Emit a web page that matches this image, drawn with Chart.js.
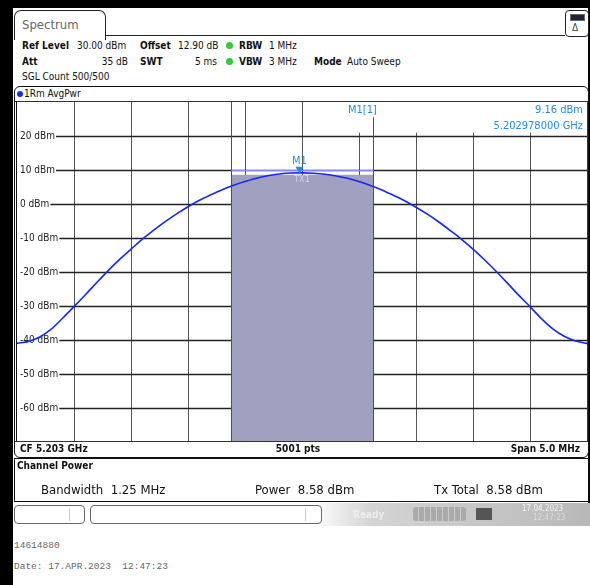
<!DOCTYPE html>
<html>
<head>
<meta charset="utf-8">
<script src="https://cdn.jsdelivr.net/npm/chart.js@4"></script>
<style>
body { margin: 0; background: #fff; }
#page { position: relative; width: 590px; height: 585px; overflow: hidden; background: #fff;
  font-family: "DejaVu Sans Condensed", "Liberation Sans Narrow", "DejaVu Sans", sans-serif; color: #111; }
.t { position: absolute; white-space: nowrap; font-size: 10px; line-height: 12px; }
.b { font-weight: bold; }
.dot { position: absolute; width: 7px; height: 7px; border-radius: 50%; background: #3c3; }
.blk { position: absolute; background: #000; }
.box { position: absolute; border: 1px solid #222; box-sizing: border-box; }
#plot { position: absolute; left: 17px; top: 102px; width: 570px; height: 340px; }
.mk { position: absolute; color: #1e8ce0; font-size: 11px; line-height: 12px; white-space: nowrap; }
.cp { position: absolute; font-size: 13px; line-height: 15px; white-space: nowrap; }
.mono { position: absolute; font-family: "Liberation Mono", "DejaVu Sans Mono", monospace; font-size: 9.5px; color: #666; white-space: nowrap; }
</style>
</head>
<body>
<div id="page">
  <!-- black frame -->
  <div class="blk" style="left:0;top:0;width:590px;height:8px"></div>
  <div class="blk" style="left:0;top:0;width:13px;height:585px"></div>
  <div class="blk" style="left:588px;top:0;width:2px;height:503px"></div>

  <!-- tab -->
  <div class="box" style="left:14px;top:10px;width:92px;height:30px;border-radius:7px 7px 0 0;border-bottom:none;background:#fff"></div>
  <div style="position:absolute;left:105px;top:35px;width:460px;height:1px;background:#222"></div>
  <div class="t" style="left:22px;top:17px;font-size:13px;line-height:16px;color:#666">Spectrum</div>
  <div class="box" style="left:565px;top:10px;width:24px;height:27px;border-radius:4px"></div>
  <div style="position:absolute;left:570px;top:14px;width:13px;height:5px;background:#223;border:1px solid #667"></div>
  <div class="t" style="left:572px;top:22px;font-size:10px;color:#445">&#916;</div>

  <!-- header -->
  <div class="t b" style="left:22px;top:40px">Ref Level</div>
  <div class="t" style="left:77px;top:40px">30.00 dBm</div>
  <div class="t b" style="left:140px;top:40px">Offset</div>
  <div class="t" style="left:178px;top:40px">12.90 dB</div>
  <div class="dot" style="left:226px;top:42px"></div>
  <div class="t b" style="left:239px;top:40px">RBW</div>
  <div class="t" style="left:269px;top:40px">1 MHz</div>

  <div class="t b" style="left:22px;top:56px">Att</div>
  <div class="t" style="left:98px;top:56px;width:30px;text-align:right">35 dB</div>
  <div class="t b" style="left:140px;top:56px">SWT</div>
  <div class="t" style="left:187px;top:56px;width:30px;text-align:right">5 ms</div>
  <div class="dot" style="left:226px;top:58px"></div>
  <div class="t b" style="left:239px;top:56px">VBW</div>
  <div class="t" style="left:269px;top:56px">3 MHz</div>
  <div class="t b" style="left:314px;top:56px">Mode</div>
  <div class="t" style="left:347px;top:56px">Auto Sweep</div>

  <div class="t" style="left:22px;top:71px">SGL Count 500/500</div>

  <!-- diagram frame -->
  <div class="box" style="left:14px;top:86px;width:575px;height:372px;border-radius:6px;border-color:#111"></div>
  <div class="dot" style="left:17px;top:91px;background:#1030e0;width:6px;height:6px"></div>
  <div class="t" style="left:24px;top:88px">1Rm AvgPwr</div>
  <canvas id="plot" width="570" height="340"></canvas>
  <div style="position:absolute;left:15px;top:101px;width:573px;height:1px;background:#333"></div>
  <div style="position:absolute;left:15px;top:441px;width:573px;height:1px;background:#333"></div>
  <div style="position:absolute;left:16px;top:101px;width:1px;height:341px;background:#111"></div>
  <div style="position:absolute;left:587px;top:101px;width:1px;height:341px;background:#333"></div>

  <!-- marker info -->
  <div class="mk" style="left:348px;top:104px">M1[1]</div>
  <div class="mk" style="left:480px;top:104px;width:103px;text-align:right">9.16 dBm</div>
  <div class="mk" style="left:460px;top:120px;width:123px;text-align:right">5.202978000 GHz</div>

  <!-- footer of diagram -->
  <div class="t b" style="left:20px;top:443px">CF 5.203 GHz</div>
  <div class="t b" style="left:248px;top:443px;width:100px;text-align:center">5001 pts</div>
  <div class="t b" style="left:480px;top:443px;width:100px;text-align:right">Span 5.0 MHz</div>

  <!-- channel power table -->
  <div class="box" style="left:14px;top:458px;width:575px;height:44px;border-color:#111"></div>
  <div class="t b" style="left:17px;top:460px">Channel Power</div>
  <div class="cp" style="left:41px;top:482px">Bandwidth&nbsp; 1.25 MHz</div>
  <div class="cp" style="left:255px;top:482px">Power&nbsp; 8.58 dBm</div>
  <div class="cp" style="left:434px;top:482px">Tx Total&nbsp; 8.58 dBm</div>

  <!-- status bar -->
  <div style="position:absolute;left:13px;top:503px;width:577px;height:23px;background:linear-gradient(to right,#fff 0%,#fff 52%,#d4d4d4 62%,#b8b8b8 100%)"></div>
  <div class="box" style="left:14px;top:505px;width:71px;height:19px;border-radius:4px;border-color:#666;background:#fff"></div>
  <div style="position:absolute;left:69px;top:508px;width:1px;height:13px;background:#ccc"></div>
  <div class="box" style="left:90px;top:505px;width:232px;height:19px;border-radius:4px;border-color:#666;background:#fff"></div>
  <div style="position:absolute;left:305px;top:508px;width:1px;height:13px;background:#ccc"></div>
  <div class="t b" style="left:353px;top:509px;color:#eee">Ready</div>
  <div style="position:absolute;left:413px;top:507px;width:53px;height:14px;border-radius:3px;background:repeating-linear-gradient(to right,#aaa 0,#aaa 5px,#ccc 5px,#ccc 6px)"></div>
  <div style="position:absolute;left:476px;top:508px;width:16px;height:12px;background:#555"></div>
  <div class="t" style="left:522px;top:504px;font-size:8px;line-height:9px;color:#f4f4f4">17.04.2023</div>
  <div class="t" style="left:533px;top:513px;font-size:8px;line-height:9px;color:#ddd">12:47:23</div>

  <div class="mono" style="left:14px;top:540px">14614880</div>
  <div class="mono" style="left:14px;top:561px">Date: 17.APR.2023&nbsp; 12:47:23</div>
</div>

<script>
// frequency offset from CF 5.203 GHz, MHz
var freqMHz = [-2.5, -2.4, -2.3, -2.2, -2.1, -2.0, -1.9, -1.8, -1.7, -1.6, -1.5, -1.4, -1.3, -1.2, -1.1,
    -1.0, -0.9, -0.8, -0.7, -0.6, -0.5, -0.4, -0.3, -0.2, -0.1, 0.0, 0.1, 0.2, 0.3, 0.4, 0.5,
    0.6, 0.7, 0.8, 0.9, 1.0, 1.1, 1.2, 1.3, 1.4, 1.5, 1.6, 1.7, 1.8, 1.9, 2.0, 2.1, 2.2, 2.3, 2.4, 2.5];
// trace 1, dBm
var avgPwr = [-41.0, -40.4, -39.1, -36.8, -33.6, -30.2, -26.7, -23.1, -19.6, -16.3, -13.3, -10.3, -7.7, -5.2, -2.9,
    -0.8, 1.1, 2.7, 4.2, 5.5, 6.6, 7.6, 8.3, 8.8, 9.1, 9.15, 9.05, 8.75, 8.25, 7.55, 6.6,
    5.45, 4.15, 2.6, 0.95, -0.95, -3.0, -5.3, -7.8, -10.4, -13.3, -16.4, -19.7, -23.2, -26.8, -30.2, -33.7, -36.7, -38.9, -40.3, -41.0];

var xGrid = [-2.0, -1.5, -1.0, -0.5, 0.0, 0.5, 1.0, 1.5, 2.0];
var yGrid = [20, 10, 0, -10, -20, -30, -40, -50, -60];
var yLabels = ["20 dBm", "10 dBm", "0 dBm", "-10 dBm", "-20 dBm", "-30 dBm", "-40 dBm", "-50 dBm", "-60 dBm"];

var chanEdges = [-0.625, 0.625];   // 1.25 MHz channel
var chanPower = 8.58;
var chanBar = 10;
var markerX = -0.022;   // 5.202978 GHz
var markerY = 9.16;

var gridPlugin = {
    id: "grid",
    beforeDatasetsDraw: function (chart) {
        var c = chart.ctx, xs = chart.scales.x, ys = chart.scales.y, a = chart.chartArea;
        c.save();
        c.strokeStyle = "#555";
        c.lineWidth = 1;
        xGrid.forEach(function (v) {
            var px = Math.round(xs.getPixelForValue(v)) + 0.5;
            c.beginPath(); c.moveTo(px, a.top); c.lineTo(px, a.bottom); c.stroke();
        });
        c.font = "10px 'DejaVu Sans Condensed', 'DejaVu Sans', sans-serif";
        c.textBaseline = "middle";
        yGrid.forEach(function (v, i) {
            var py = Math.round(ys.getPixelForValue(v)) + 0.5;
            var w = c.measureText(yLabels[i]).width;
            c.strokeStyle = "#222";
            c.lineWidth = 1.3;
            c.beginPath(); c.moveTo(a.left + 4 + w, py); c.lineTo(a.right, py); c.stroke();
            c.fillStyle = "#fff";
            c.fillRect(a.left + 2, py - 6, w + 2, 12);
            c.fillStyle = "#222";
            c.fillText(yLabels[i], a.left + 3, py);
        });
        // marker info area
        c.fillStyle = "#fff";
        c.fillRect(xs.getPixelForValue(0.3), a.top, a.right - xs.getPixelForValue(0.3), ys.getPixelForValue(21) - a.top);
        c.restore();
    },
    afterDatasetsDraw: function (chart) {
        var c = chart.ctx, xs = chart.scales.x, ys = chart.scales.y, a = chart.chartArea;
        var x0 = Math.round(xs.getPixelForValue(chanEdges[0])) + 0.5;
        var x1 = Math.round(xs.getPixelForValue(chanEdges[1])) + 0.5;
        var yb = Math.round(ys.getPixelForValue(chanBar)) + 0.5;
        c.save();
        c.strokeStyle = "#3a3aff";
        c.lineWidth = 1;
        c.beginPath(); c.moveTo(x0, a.top); c.lineTo(x0, a.bottom); c.stroke();
        c.beginPath(); c.moveTo(x1, ys.getPixelForValue(25.5)); c.lineTo(x1, a.bottom); c.stroke();
        c.strokeStyle = "#8a8aff";
        c.beginPath(); c.moveTo(x0, yb); c.lineTo(x1, yb); c.stroke();
        // TX1 label
        var cx = xs.getPixelForValue(0);
        c.fillStyle = "#d8d8e4";
        c.font = "9px 'DejaVu Sans Condensed', sans-serif";
        c.textAlign = "center";
        c.textBaseline = "top";
        c.fillText("TX1", cx, ys.getPixelForValue(chanPower) + 0.5);
        // marker M1
        var mx = xs.getPixelForValue(markerX), my = ys.getPixelForValue(markerY);
        c.fillStyle = "#1e8ce0";
        c.beginPath(); c.moveTo(mx, my + 1); c.lineTo(mx - 4, my - 6); c.lineTo(mx + 4, my - 6); c.closePath(); c.fill();
        c.font = "11px 'DejaVu Sans Condensed', sans-serif";
        c.textBaseline = "bottom";
        c.fillText("M1", mx, my - 6);
        c.restore();
    },
};

new Chart(document.getElementById("plot"), {
    type: "line",
    data: {
        datasets: [
            {
                label: "1Rm AvgPwr",
                data: freqMHz.map(function (f, i) { return { x: f, y: avgPwr[i] }; }),
                borderColor: "#1428f0",
                borderWidth: 1.6,
                pointRadius: 0,
                tension: 0.4,
                cubicInterpolationMode: "monotone",
                fill: false,
            },
            {
                label: "TX1",
                data: [{ x: chanEdges[0], y: chanPower }, { x: chanEdges[1], y: chanPower }],
                borderColor: "rgba(0,0,0,0)",
                borderWidth: 0,
                backgroundColor: "rgb(160,160,192)",
                pointRadius: 0,
                fill: "start",
            },
        ],
    },
    options: {
        responsive: false,
        animation: false,
        layout: { padding: 0 },
        plugins: { legend: { display: false }, tooltip: { enabled: false } },
        scales: {
            x: { type: "linear", min: -2.5, max: 2.5, display: false },
            y: { min: -70, max: 30, display: false },
        },
    },
    plugins: [gridPlugin],
});
</script>
</body>
</html>
